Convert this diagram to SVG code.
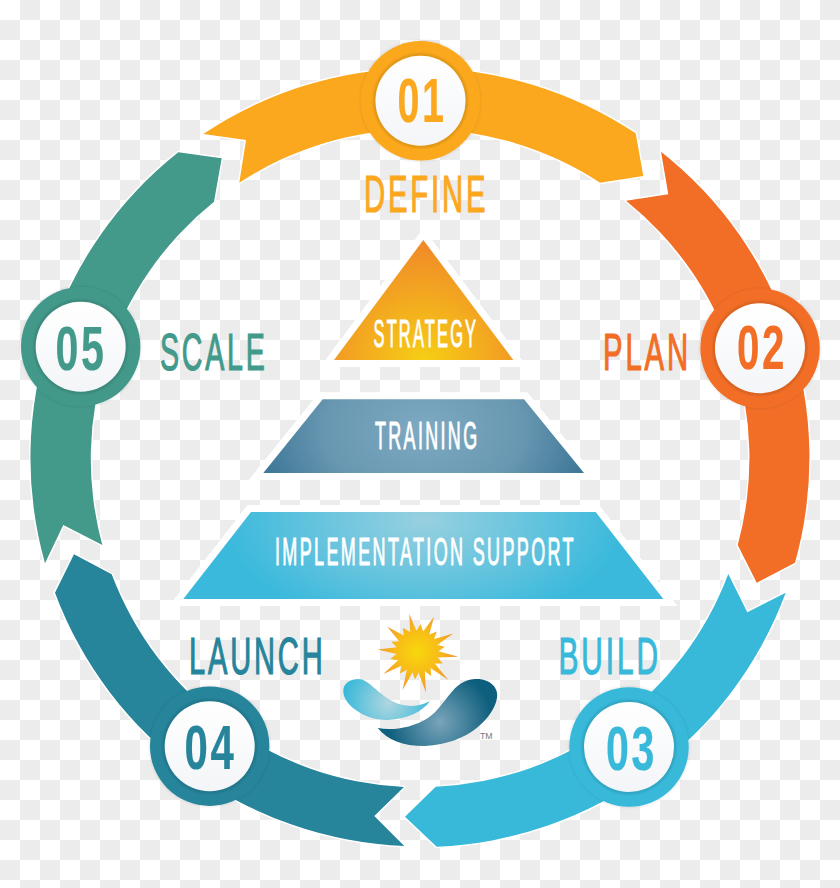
<svg xmlns="http://www.w3.org/2000/svg" width="840" height="888" viewBox="0 0 840 888">
<style>
.lbl{font-family:"Liberation Sans",Arial,sans-serif;font-size:51px;letter-spacing:5px;stroke-width:1.2px}
.num{font-family:"Liberation Sans",Arial,sans-serif;font-size:63px;font-weight:700;letter-spacing:4px;stroke-width:.2px}
.pyr{font-family:"Liberation Sans",Arial,sans-serif;font-size:38px;letter-spacing:5px;fill:#fff;stroke:#fff;stroke-width:1px}
.halo{fill:#fff;stroke:#fff;stroke-width:14;stroke-linejoin:miter;stroke-miterlimit:10}
.rib{stroke:#fff;stroke-width:3;stroke-linejoin:round;paint-order:stroke}
.face{fill:url(#face)}
.c1{fill:#fba81e;stroke:#fba81e}.c2{fill:#f26e26;stroke:#f26e26}.c3{fill:#38b9da;stroke:#38b9da}.c4{fill:#26849b;stroke:#26849b}.c5{fill:#43998a;stroke:#43998a}
.rib.c1,.rib.c2,.rib.c3,.rib.c4,.rib.c5{stroke:#fff}
.ring{stroke:none;filter:url(#shadow)}
.inner{fill:none;stroke:#000;stroke-opacity:.16;stroke-width:2;filter:url(#soft)}
</style>
<defs>
<pattern id="checker" width="40" height="40" patternUnits="userSpaceOnUse">
<rect width="40" height="40" fill="#fff"/>
<rect x="20" y="0" width="20" height="20" fill="#ececec"/>
<rect x="0" y="20" width="20" height="20" fill="#ececec"/>
</pattern>
<linearGradient id="face" x1="0" y1="0" x2="0" y2="1"><stop offset="0" stop-color="#fff"/><stop offset="1" stop-color="#f3f5f8"/></linearGradient>
<filter id="shadow" x="-20%" y="-20%" width="140%" height="140%"><feDropShadow dx="0" dy="0" stdDeviation="1.4" flood-color="#000" flood-opacity=".16"/></filter>
<filter id="soft" x="-20%" y="-20%" width="140%" height="140%"><feGaussianBlur stdDeviation="1"/></filter>
<radialGradient id="gS" gradientUnits="userSpaceOnUse" cx="424" cy="362" r="125"><stop offset="0" stop-color="#f6cf14"/><stop offset="1" stop-color="#f0862a"/></radialGradient>
<radialGradient id="gT" gradientUnits="userSpaceOnUse" cx="424" cy="430" r="165" gradientTransform="translate(424 430) scale(1 .7) translate(-424 -430)"><stop offset="0" stop-color="#7eaac2"/><stop offset=".6" stop-color="#6897b1"/><stop offset="1" stop-color="#3f7898"/></radialGradient>
<radialGradient id="gI" gradientUnits="userSpaceOnUse" cx="424" cy="520" r="200" gradientTransform="translate(424 520) scale(1 .55) translate(-424 -520)"><stop offset="0" stop-color="#98d0e0"/><stop offset="1" stop-color="#3ab9dc"/></radialGradient>
<radialGradient id="gSun" gradientUnits="userSpaceOnUse" cx="0" cy="0" r="38"><stop offset="0" stop-color="#f7d70c"/><stop offset=".55" stop-color="#f8bd17"/><stop offset="1" stop-color="#f29a2e"/></radialGradient>
<radialGradient id="gW1" gradientUnits="userSpaceOnUse" cx="388" cy="703" r="45"><stop offset="0" stop-color="#b0d6e0"/><stop offset="1" stop-color="#38b9da"/></radialGradient>
<radialGradient id="gW2" gradientUnits="userSpaceOnUse" cx="440" cy="722" r="52"><stop offset="0" stop-color="#7aa4bb"/><stop offset="1" stop-color="#0e5f7d"/></radialGradient>
</defs>
<rect width="840" height="888" fill="url(#checker)"/>

<g id="connectors">
<path class="rib c1" d="M203.3 134A389.5 389.5 0 0 1 635.7 133.3L643.3 176L600 182.7A329.5 329.5 0 0 0 239.3 182.7L246 140Z"/>
<path class="rib c2" d="M661 151.7A389.5 389.5 0 0 1 795 562.7L756.7 582.7L737.7 545A329.5 329.5 0 0 0 626 200.7L668.3 194.3Z"/>
<path class="rib c3" d="M785.7 592.7A389.5 389.5 0 0 1 436.7 846.7L405 816.7L435.7 786.7A329.5 329.5 0 0 0 728.3 574L747.3 612.3Z"/>
<path class="rib c4" d="M404.3 846A389.5 389.5 0 0 1 55 592.7L74 554.3L111.7 574.3A329.5 329.5 0 0 0 404 787L374.3 816Z"/>
<path class="rib c5" d="M45 563.3A389.5 389.5 0 0 1 178.3 152.3L221.7 158.3L214 201.7A329.5 329.5 0 0 0 102.3 545L63.3 525Z"/>
</g>

<g id="pyramid-strategy">
<polygon class="halo" points="423.3,240 334,360 513.3,360"/>
<polygon fill="url(#gS)" points="423.3,240 334,360 513.3,360"/>
<text class="pyr" transform="translate(373.5 346.7) scale(.433 1)">STRATEGY</text>
</g>
<g id="pyramid-training">
<polygon class="halo" points="322.7,399.3 524,399.3 584,473 263.3,473"/>
<polygon fill="url(#gT)" points="322.7,399.3 524,399.3 584,473 263.3,473"/>
<text class="pyr" transform="translate(375 449.3) scale(.4716 1)">TRAINING</text>
</g>
<g id="pyramid-implementation">
<polygon class="halo" points="251,512 595.7,512 663.3,599 183.3,599"/>
<polygon fill="url(#gI)" points="251,512 595.7,512 663.3,599 183.3,599"/>
<text class="pyr" transform="translate(275 565.3) scale(.4735 1)">IMPLEMENTATION SUPPORT</text>
</g>

<g id="logo">
<polygon transform="translate(417.3 651.7)" fill="url(#gSun)" points="-8,-37.7 -.9,-21 3.4,-27.8 5.8,-20.2 16.7,-35 12,-17.2 19.5,-20.1 16.8,-12.6 36,-18.3 19.9,-6.7 27.6,-4.9 21,-.5 41,5 20.2,5.8 25.4,11.8 17.5,11.7 31,28.3 13.2,16.3 14,24.2 7.5,19.6 8.7,41 1.3,21 -2.4,27.9 -4.7,20.5 -14.7,38.3 -10.5,18.2 -17.6,21.8 -15.6,14.1 -34,22.3 -19.2,8.5 -27,7.2 -20.9,2.2 -39.7,-2.3 -20.5,-4.4 -26.1,-10 -18.2,-10.5 -30,-25 -13.5,-16.1 -14.4,-24 -7.2,-19.7"/>
<path fill="url(#gW1)" d="M343.3 691C343 683 351 679 358.3 679C368 679 376 692 392 701C405 708 420 707 430 701C423 711 408 719 388 720C366 721 343 705 343.3 691Z"/>
<path fill="url(#gW2)" d="M377.7 728C392 731 412 728 428 718C446 706 452 680 475 679C490 678 499 688 497 698C494 716 470 744 425 746C402 746 388 740 377.7 728Z"/>
<text x="480" y="738.5" font-family="'Liberation Sans',Arial,sans-serif" font-size="8.5" fill="#777" textLength="12.5" lengthAdjust="spacingAndGlyphs">TM</text>
</g>

<g id="node-01">
<circle class="ring c1" cx="420.5" cy="100.8" r="59.7"/>
<circle class="inner" cx="420.5" cy="100.8" r="46"/>
<circle class="face" cx="420.5" cy="100.8" r="45"/>
<text class="num c1" transform="translate(397.5 121.7) scale(.628 1)">01</text>
<text class="lbl c1" transform="translate(364 211.7) scale(.5737 1)">DEFINE</text>
</g>
<g id="node-02">
<circle class="ring c2" cx="760" cy="348.3" r="59.7"/>
<circle class="inner" cx="760" cy="348.3" r="46"/>
<circle class="face" cx="760" cy="348.3" r="45"/>
<text class="num c2" transform="translate(737 369) scale(.6405 1)">02</text>
<text class="lbl c2" transform="translate(603 370) scale(.5744 1)">PLAN</text>
</g>
<g id="node-03">
<circle class="ring c3" cx="629" cy="747" r="59.7"/>
<circle class="inner" cx="629" cy="747" r="46"/>
<circle class="face" cx="629" cy="747" r="45"/>
<text class="num c3" transform="translate(606 769.7) scale(.653 1)">03</text>
<text class="lbl c3" transform="translate(558.5 674) scale(.585 1)">BUILD</text>
</g>
<g id="node-04">
<circle class="ring c4" cx="209.7" cy="746.2" r="59.7"/>
<circle class="inner" cx="209.7" cy="746.2" r="46"/>
<circle class="face" cx="209.7" cy="746.2" r="45"/>
<text class="num c4" transform="translate(184.5 769.3) scale(.666 1)">04</text>
<text class="lbl c4" transform="translate(189 674) scale(.5695 1)">LAUNCH</text>
</g>
<g id="node-05">
<circle class="ring c5" cx="80.7" cy="346.7" r="59.7"/>
<circle class="inner" cx="80.7" cy="346.7" r="46"/>
<circle class="face" cx="80.7" cy="346.7" r="45"/>
<text class="num c5" transform="translate(55.5 370) scale(.653 1)">05</text>
<text class="lbl c5" transform="translate(160 370) scale(.5593 1)">SCALE</text>
</g>
</svg>
